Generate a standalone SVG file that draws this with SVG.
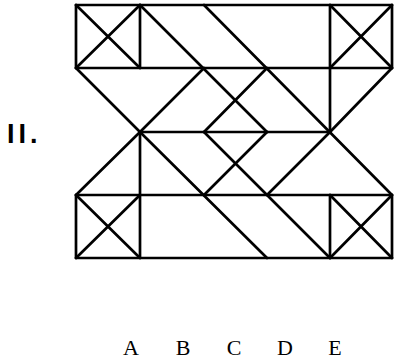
<svg xmlns="http://www.w3.org/2000/svg" width="394" height="361" viewBox="0 0 394 361">
<style>
.ln{stroke:#000;stroke-width:2.7;fill:none;stroke-linecap:round;stroke-linejoin:round}
.lab{font-family:"Liberation Serif","Times New Roman",serif;font-size:22px;fill:#000;text-anchor:middle}
.num{font-family:"Liberation Sans",Arial,sans-serif;font-weight:bold;font-size:27px;fill:#000;letter-spacing:4px}
</style>
<rect width="394" height="361" fill="#fff"/>
<g id="figure" class="ln">
  <line x1="76" y1="5" x2="392" y2="5"/>
  <line x1="76" y1="68" x2="392" y2="68"/>
  <line x1="140" y1="132" x2="330" y2="132"/>
  <line x1="76" y1="195" x2="392" y2="195"/>
  <line x1="76" y1="258" x2="392" y2="258"/>
  <line x1="76" y1="5" x2="76" y2="68"/>
  <line x1="76" y1="195" x2="76" y2="258"/>
  <line x1="392" y1="5" x2="392" y2="68"/>
  <line x1="392" y1="195" x2="392" y2="258"/>
  <line x1="140" y1="5" x2="140" y2="68"/>
  <line x1="140" y1="132" x2="140" y2="258"/>
  <line x1="330" y1="5" x2="330" y2="132"/>
  <line x1="330" y1="195" x2="330" y2="258"/>
  <line x1="76" y1="5" x2="140" y2="68"/>
  <line x1="76" y1="68" x2="140" y2="5"/>
  <line x1="330" y1="5" x2="392" y2="68"/>
  <line x1="330" y1="68" x2="392" y2="5"/>
  <line x1="76" y1="195" x2="140" y2="258"/>
  <line x1="76" y1="258" x2="140" y2="195"/>
  <line x1="330" y1="195" x2="392" y2="258"/>
  <line x1="330" y1="258" x2="392" y2="195"/>
  <line x1="140" y1="5" x2="267" y2="132"/>
  <line x1="204" y1="5" x2="392" y2="195"/>
  <line x1="76" y1="68" x2="140" y2="132"/>
  <line x1="204" y1="68" x2="140" y2="132"/>
  <line x1="267" y1="68" x2="204" y2="132"/>
  <line x1="392" y1="68" x2="330" y2="132"/>
  <line x1="140" y1="132" x2="76" y2="195"/>
  <line x1="140" y1="132" x2="267" y2="258"/>
  <line x1="204" y1="132" x2="330" y2="258"/>
  <line x1="267" y1="132" x2="204" y2="195"/>
  <line x1="330" y1="132" x2="267" y2="195"/>
</g>
<g id="labels">
  <text class="num" x="7" y="143">II.</text>
  <text class="lab" x="131" y="355">A</text>
  <text class="lab" x="183" y="355">B</text>
  <text class="lab" x="234" y="355">C</text>
  <text class="lab" x="285" y="355">D</text>
  <text class="lab" x="335" y="355">E</text>
</g>
</svg>
